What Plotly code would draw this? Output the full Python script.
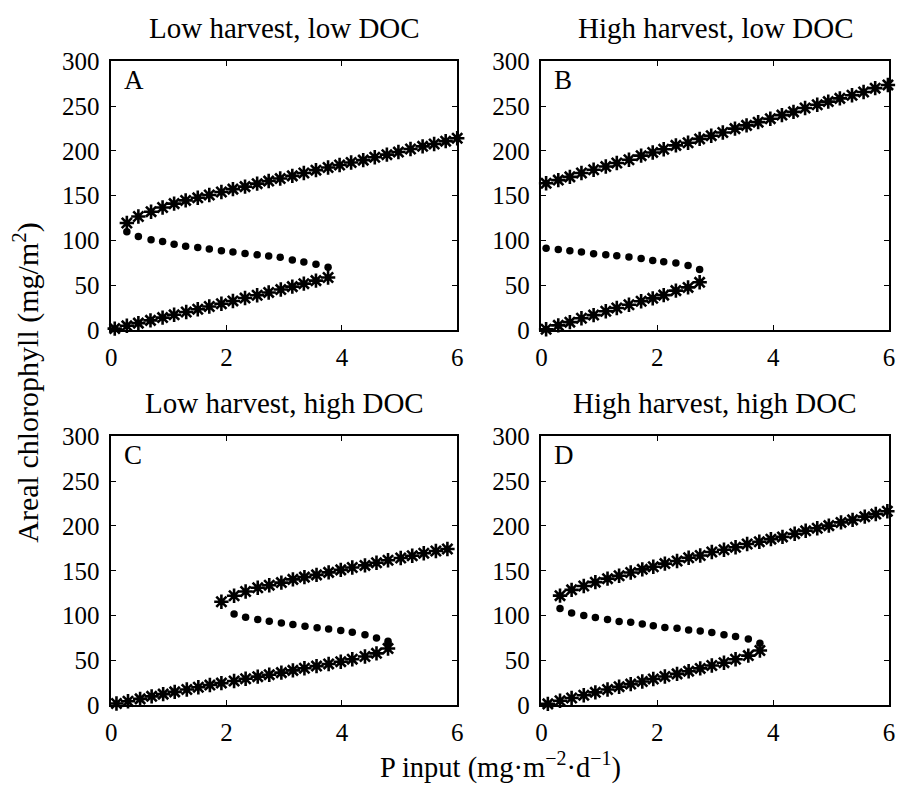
import plotly.graph_objects as go

# ---------------- data ----------------
x_ticks = [0, 2, 4, 6]
y_ticks = [0, 50, 100, 150, 200, 250, 300]
titles = ["Low harvest, low DOC", "High harvest, low DOC",
          "Low harvest, high DOC", "High harvest, high DOC"]
letters = ["A", "B", "C", "D"]

A_low_x = [0.06, 0.27, 0.47, 0.68, 0.89, 1.09, 1.30, 1.50, 1.70, 1.91, 2.11, 2.32, 2.53, 2.73, 2.94, 3.14, 3.34, 3.55, 3.76]
A_low_y = [1.4, 4.5, 7.5, 10.6, 13.7, 16.8, 19.9, 23.0, 26.1, 29.2, 32.3, 35.5, 38.6, 41.8, 45.0, 48.3, 51.6, 55.0, 58.5]
A_mid_x = [0.27, 0.47, 0.69, 0.89, 1.09, 1.29, 1.50, 1.70, 1.91, 2.11, 2.32, 2.53, 2.73, 2.93, 3.14, 3.34, 3.55, 3.76]
A_mid_y = [109.7, 104.3, 100.7, 98.6, 95.7, 93.5, 92.1, 90.3, 88.5, 87.0, 85.3, 83.8, 82.4, 81.0, 78.0, 75.9, 73.4, 69.8]
A_up_x = [0.27, 0.47, 0.69, 0.89, 1.09, 1.29, 1.50, 1.70, 1.91, 2.11, 2.32, 2.53, 2.73, 2.93, 3.14, 3.34, 3.55, 3.76, 3.96, 4.16, 4.37, 4.57, 4.78, 4.98, 5.19, 5.40, 5.60, 5.80, 6.00]
A_up_y = [119.4, 126.6, 132.0, 136.7, 141.0, 144.6, 147.5, 150.7, 154.0, 157.2, 160.0, 163.3, 166.2, 169.0, 172.0, 175.2, 178.4, 181.3, 184.2, 187.0, 189.6, 192.8, 195.7, 198.6, 202.0, 205.0, 207.6, 210.8, 214.0]

B_low_x = [0.08, 0.29, 0.49, 0.69, 0.90, 1.11, 1.30, 1.51, 1.72, 1.92, 2.11, 2.32, 2.53, 2.73]
B_low_y = [0.7, 5.0, 8.6, 12.9, 16.5, 20.8, 24.4, 28.0, 32.0, 35.2, 38.8, 43.8, 47.4, 53.1]
B_mid_x = [0.08, 0.29, 0.49, 0.69, 0.90, 1.11, 1.30, 1.51, 1.72, 1.92, 2.11, 2.32, 2.53, 2.73]
B_mid_y = [91.2, 89.8, 88.3, 86.9, 85.1, 84.0, 82.9, 81.5, 79.7, 77.6, 76.1, 74.7, 71.8, 67.5]
B_up_x = [0.08, 0.29, 0.49, 0.69, 0.90, 1.11, 1.30, 1.51, 1.72, 1.92, 2.11, 2.32, 2.53, 2.73, 2.93, 3.13, 3.34, 3.54, 3.74, 3.95, 4.15, 4.35, 4.55, 4.76, 4.95, 5.15, 5.36, 5.56, 5.76, 5.98]
B_up_y = [163.7, 167.3, 170.9, 175.2, 178.8, 182.4, 186.4, 190.0, 194.6, 198.2, 201.8, 206.1, 209.0, 213.3, 216.9, 220.5, 224.8, 228.4, 232.0, 235.9, 239.9, 243.5, 247.8, 251.4, 255.0, 258.6, 262.1, 265.7, 270.0, 273.6]

C_low_x = [0.09, 0.29, 0.50, 0.70, 0.90, 1.10, 1.31, 1.51, 1.71, 1.91, 2.13, 2.33, 2.54, 2.74, 2.95, 3.15, 3.35, 3.56, 3.77, 3.98, 4.18, 4.40, 4.60, 4.80]
C_low_y = [1.8, 4.3, 7.0, 9.8, 12.3, 14.8, 17.5, 20.0, 22.4, 24.6, 27.0, 29.4, 31.8, 34.0, 36.3, 38.8, 41.2, 43.6, 46.0, 48.5, 51.3, 54.3, 57.8, 63.2]
C_mid_x = [2.13, 2.33, 2.54, 2.74, 2.95, 3.15, 3.36, 3.57, 3.77, 3.98, 4.18, 4.40, 4.60, 4.80, 4.80]
C_mid_y = [101.8, 98.2, 95.7, 93.6, 91.8, 90.0, 88.2, 86.4, 85.0, 83.2, 81.4, 78.6, 75.0, 71.4, 68.6]
C_up_x = [1.91, 2.13, 2.33, 2.54, 2.74, 2.95, 3.15, 3.35, 3.56, 3.77, 3.98, 4.18, 4.40, 4.60, 4.80, 5.02, 5.22, 5.42, 5.63, 5.83, 6.02]
C_up_y = [115.4, 122.1, 126.8, 131.0, 133.9, 136.8, 140.4, 142.9, 145.4, 148.2, 151.0, 153.6, 156.0, 158.9, 161.8, 164.3, 166.8, 169.6, 172.1, 174.3, 176.5]

D_low_x = [0.11, 0.32, 0.52, 0.73, 0.93, 1.14, 1.34, 1.54, 1.74, 1.93, 2.13, 2.34, 2.54, 2.74, 2.94, 3.15, 3.35, 3.57, 3.77]
D_low_y = [1.4, 4.9, 8.0, 11.1, 14.3, 17.5, 20.6, 23.5, 26.4, 29.2, 32.0, 34.9, 37.9, 41.0, 44.2, 47.4, 51.2, 55.3, 61.0]
D_mid_x = [0.32, 0.52, 0.73, 0.93, 1.14, 1.34, 1.54, 1.74, 1.93, 2.13, 2.34, 2.54, 2.74, 2.94, 3.15, 3.35, 3.57, 3.77]
D_mid_y = [107.9, 102.9, 100.0, 97.8, 95.7, 93.5, 92.5, 90.7, 88.5, 86.7, 85.7, 83.9, 82.8, 81.0, 78.5, 76.7, 73.8, 69.2]
D_up_x = [0.32, 0.52, 0.73, 0.93, 1.14, 1.34, 1.54, 1.74, 1.93, 2.13, 2.34, 2.54, 2.74, 2.94, 3.15, 3.35, 3.55, 3.76, 3.96, 4.16, 4.37, 4.56, 4.76, 4.96, 5.17, 5.37, 5.58, 5.77, 5.97]
D_up_y = [122.2, 128.7, 133.0, 137.3, 141.2, 144.4, 148.0, 151.6, 154.5, 158.0, 160.9, 164.5, 167.0, 171.0, 173.5, 176.3, 179.9, 182.4, 185.3, 187.8, 191.4, 194.6, 197.5, 200.4, 204.0, 206.8, 210.4, 213.3, 216.5]

panels = [
    (A_low_x, A_low_y, A_mid_x, A_mid_y, A_up_x, A_up_y),
    (B_low_x, B_low_y, B_mid_x, B_mid_y, B_up_x, B_up_y),
    (C_low_x, C_low_y, C_mid_x, C_mid_y, C_up_x, C_up_y),
    (D_low_x, D_low_y, D_mid_x, D_mid_y, D_up_x, D_up_y),
]

# ---------------- layout ----------------
W, H = 902, 794
FONT = "Liberation Serif, Times New Roman, serif"
# pixel boxes (left, right, top, bottom)
boxes = [(106.7, 457.3, 50.0, 328.0), (542.7, 895.0, 50.0, 328.0),
         (106.7, 457.3, 438.3, 716.5), (542.7, 895.0, 438.3, 716.5)]

fig = go.Figure()
star = dict(symbol="asterisk-open", size=12, color="black", line=dict(color="black", width=2.6))
dot = dict(symbol="circle", size=7.5, color="black", line=dict(width=0))

annotations = []
for i, (lx, ly, mx, my, ux, uy) in enumerate(panels):
    xa = "x" if i == 0 else f"x{i+1}"
    ya = "y" if i == 0 else f"y{i+1}"
    for xs, ys, mk in ((lx, ly, star), (mx, my, dot), (ux, uy, star)):
        fig.add_trace(go.Scatter(x=xs, y=ys, mode="markers", marker=mk,
                                 xaxis=xa, yaxis=ya, cliponaxis=False,
                                 showlegend=False, hoverinfo="skip"))
    l, r, t, b = boxes[i]
    axis_common = dict(showline=True, linecolor="black", linewidth=1.5, mirror="ticks",
                       ticks="inside", ticklen=5, tickwidth=1, tickcolor="black",
                       showgrid=False, zeroline=False,
                       tickfont=dict(family=FONT, size=25, color="black"))
    fig.layout[f"xaxis{'' if i == 0 else i+1}"] = dict(
        domain=[l / W, r / W], range=[0, 6], tickvals=x_ticks, anchor=ya,
        ticklabelstandoff=4, **axis_common)
    fig.layout[f"yaxis{'' if i == 0 else i+1}"] = dict(
        domain=[1 - b / H, 1 - t / H], range=[0, 300], tickvals=y_ticks, anchor=xa,
        ticklabelstandoff=5, **axis_common)
    annotations.append(dict(text=titles[i], x=(l + r) / 2 / W, y=1 - (t - 16) / H,
                            xref="paper", yref="paper", xanchor="center", yanchor="bottom",
                            showarrow=False, font=dict(family=FONT, size=29, color="black")))
    annotations.append(dict(text=letters[i], x=0.19, y=279, xref=xa, yref=ya,
                            xanchor="left", yanchor="middle", showarrow=False,
                            font=dict(family=FONT, size=27, color="black")))

annotations.append(dict(text="P input (mg·m<sup>−2</sup>·d<sup>−1</sup>)", x=501 / W, y=1 - 787 / H,
                        xref="paper", yref="paper", xanchor="center", yanchor="bottom",
                        yshift=-13, showarrow=False,
                        font=dict(family=FONT, size=28.5, color="black")))
annotations.append(dict(text="Areal chlorophyll (mg/m<sup>2</sup>)", x=21 / W, y=1 - 383 / H,
                        xref="paper", yref="paper", xanchor="center", yanchor="middle",
                        textangle=-90, showarrow=False,
                        font=dict(family=FONT, size=30, color="black")))

fig.update_layout(width=W, height=H, margin=dict(l=0, r=0, t=0, b=0),
                  paper_bgcolor="white", plot_bgcolor="white",
                  annotations=annotations, font=dict(family=FONT, color="black"))

fig.write_html("out.html", config={"displayModeBar": False},
               post_script="document.body.style.margin='0';document.body.style.overflow='hidden';")
